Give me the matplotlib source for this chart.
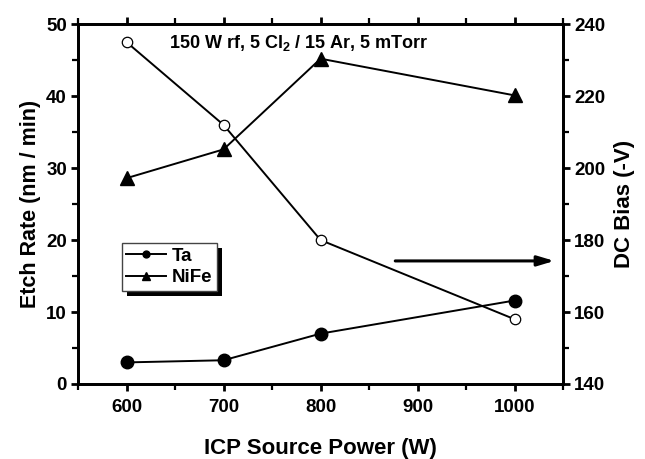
import matplotlib
matplotlib.use("Agg")
import matplotlib.pyplot as plt
from matplotlib.patches import Rectangle
from matplotlib.transforms import IdentityTransform

plt.rcParams['font.family'] = ['Liberation Sans', 'DejaVu Sans']
plt.rcParams['font.weight'] = 'bold'
plt.rcParams['mathtext.fontset'] = 'custom'
plt.rcParams['mathtext.bf'] = 'Liberation Sans:bold'
plt.rcParams['mathtext.rm'] = 'Liberation Sans:bold'

# data
power = [600, 700, 800, 1000]
ta_rate = [3.0, 3.3, 7.0, 11.6]
nife_rate = [28.6, 32.6, 45.2, 40.1]
dc_bias = [235, 212, 180, 158]

fig = plt.figure(figsize=(6.45, 4.59), dpi=100)
ax = fig.add_axes([0.121, 0.1634, 0.752, 0.784])
ax2 = ax.twinx()

ax.plot(power, ta_rate, color='black', lw=1.4, marker='o', ms=9, label='Ta')
ax.plot(power, nife_rate, color='black', lw=1.4, marker='^', ms=9.5, label='NiFe')
ax2.plot(power, dc_bias, color='black', lw=1.4, marker='o', ms=7.5,
         markerfacecolor='white', markeredgewidth=0.9)

ax.set_xlim(550, 1050)
ax.set_ylim(0, 50)
ax2.set_ylim(140, 240)
ax.set_xticks([600, 700, 800, 900, 1000])
ax.set_xticks([550, 650, 750, 850, 950, 1050], minor=True)
ax.set_yticks([0, 10, 20, 30, 40, 50])
ax.set_yticks([5, 15, 25, 35, 45], minor=True)
ax2.set_yticks([140, 160, 180, 200, 220, 240])
ax2.set_yticks([150, 170, 190, 210, 230], minor=True)

for a in (ax, ax2):
    for s in a.spines.values():
        s.set_linewidth(2)
    a.tick_params(which='major', direction='out', length=5, width=2, labelsize=13.5, pad=3)
    a.tick_params(which='minor', direction='out', length=4, width=1.6)
ax.tick_params(axis='x', which='both', top=True)
ax.tick_params(axis='x', which='major', pad=6)

ax.set_xlabel('ICP Source Power (W)', fontsize=16, fontweight='bold', labelpad=16)
ax.set_ylabel('Etch Rate (nm / min)', fontsize=15.5, fontweight='bold', labelpad=4)
ax2.set_ylabel('DC Bias (-V)', fontsize=16, fontweight='bold', labelpad=6)

ax.text(778, 47.4, r'150 W rf, 5 Cl$_{\mathbf{2}}$ / 15 Ar, 5 mTorr', fontsize=13,
        fontweight='bold', ha='center', va='center')

ax.annotate('', xy=(1041, 17.1), xytext=(877, 17.1),
            arrowprops=dict(arrowstyle='-|>,head_length=1.0,head_width=0.3',
                            color='black', lw=2.2, shrinkA=0, shrinkB=0))

leg = ax.legend(loc='upper left', bbox_to_anchor=(0.090, 0.3925), borderaxespad=0,
                fancybox=False, edgecolor='#444444', framealpha=1,
                markerscale=0.55, handlelength=2.1, handletextpad=0.3,
                labelspacing=0.25, borderpad=0.25,
                prop={'size': 13.5, 'weight': 'bold'})
leg.get_frame().set_linewidth(1.0)
leg.set_zorder(6)

# solid black drop shadow behind the legend box
fig.canvas.draw()
bb = leg.get_frame().get_window_extent()
shadow = Rectangle((bb.x0 + 5, bb.y0 - 5), bb.width, bb.height,
                   transform=IdentityTransform(), facecolor='black',
                   edgecolor='none', zorder=5.5)
ax.add_artist(shadow)

fig.savefig('out.png', dpi=100)
